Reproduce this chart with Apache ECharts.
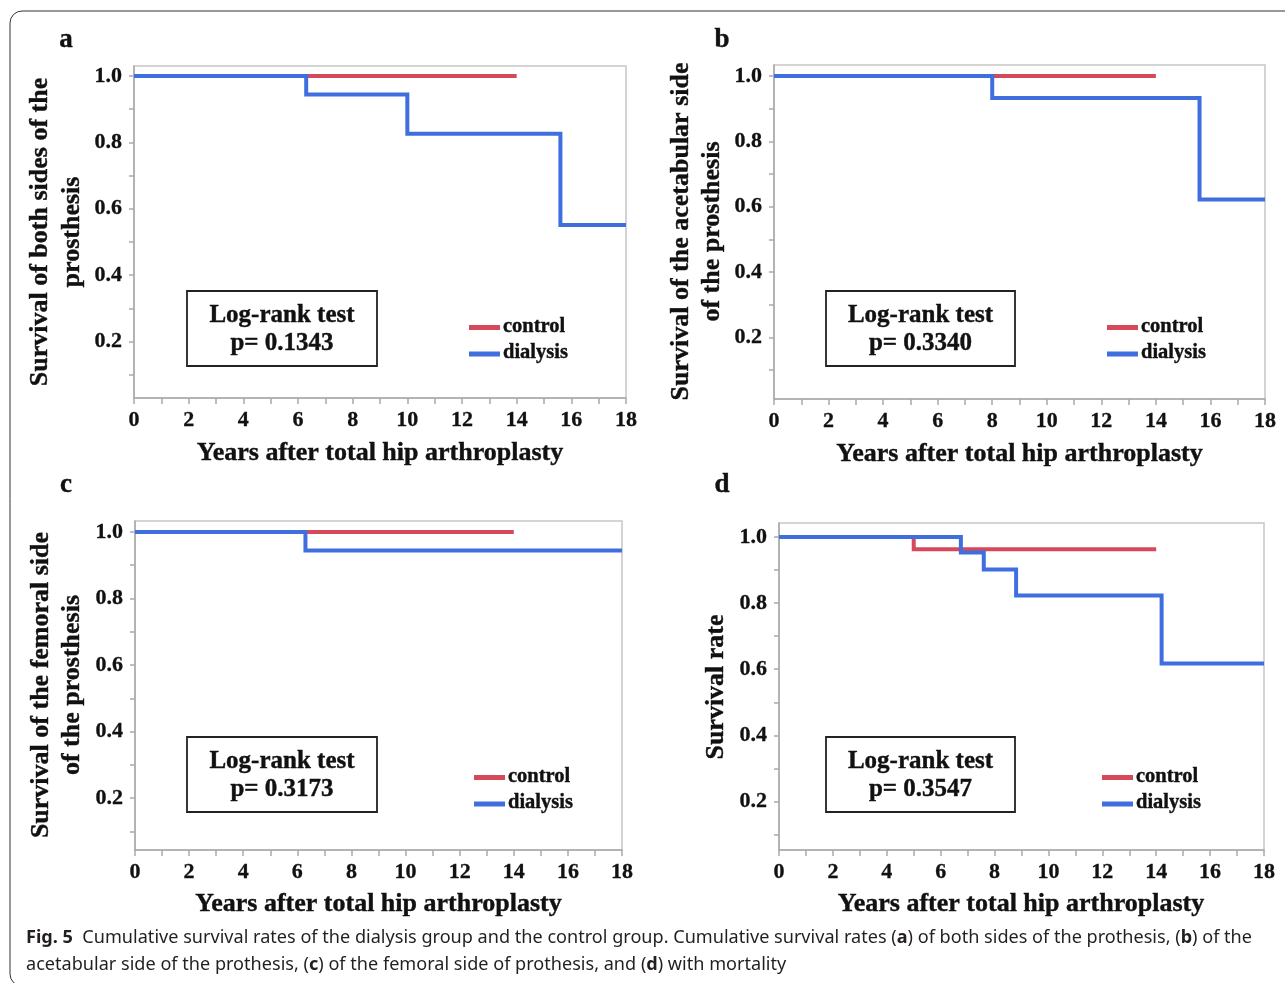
<!DOCTYPE html>
<html>
<head>
<meta charset="utf-8">
<script src="https://cdn.jsdelivr.net/npm/echarts@6/dist/echarts.min.js"></script>
<style>
html,body{margin:0;padding:0;background:#fff;}
#chart{width:1285px;height:983px;}
</style>
</head>
<body>
<div id="chart"></div>
<script>
// ---------------- DATA ----------------
const xTickLabels = [0, 2, 4, 6, 8, 10, 12, 14, 16, 18];
const xTickMarks = [0,1,2,3,4,5,6,7,8,9,10,11,12,13,14,15,16,17,18];
const yTickLabels = [0.2, 0.4, 0.6, 0.8, 1.0];
const yTickMarks = [0.1,0.2,0.3,0.4,0.5,0.6,0.7,0.8,0.9,1.0];

const seriesNames = ['control', 'dialysis'];
const panelLetters = ['a', 'b', 'c', 'd'];
const pValues = ['0.1343', '0.3340', '0.3173', '0.3547'];

const aControl  = [[0, 1], [14, 1]];
const aDialysis = [[0, 1], [6.3, 0.944], [10.0, 0.826], [15.6, 0.551], [18, 0.551]];
const bControl  = [[0, 1], [14, 1]];
const bDialysis = [[0, 1], [8.0, 0.933], [15.6, 0.622], [18, 0.622]];
const cControl  = [[0, 1], [14, 1]];
const cDialysis = [[0, 1], [6.3, 0.944], [18, 0.944]];
const dControl  = [[0, 1], [5.0, 0.963], [14, 0.963]];
const dDialysis = [[0, 1], [6.75, 0.953], [7.6, 0.902], [8.8, 0.823], [14.2, 0.617], [18, 0.617]];

const yTitles = [
  ['Survival of both sides of the', 'prosthesis'],
  ['Survival of the acetabular side', 'of the prosthesis'],
  ['Survival of the femoral side', 'of the prosthesis'],
  ['Survival rate']
];
const xTitle = 'Years after total hip arthroplasty';

const captionLine1 = [
  ['Fig. 5', true],
  ['  Cumulative survival rates of the dialysis group and the control group. Cumulative survival rates (', false],
  ['a', true], [') of both sides of the prothesis, (', false], ['b', true], [') of the', false]
];
const captionLine2 = [
  ['acetabular side of the prothesis, (', false], ['c', true], [') of the femoral side of prothesis, and (', false],
  ['d', true], [') with mortality', false]
];

// ---------------- LAYOUT / STYLE ----------------
const RED = '#d5495b', BLUE = '#3f6fdf';
const SERIF = '"Liberation Serif", "Times New Roman", serif';
const INK = '#111';
const layout = [
  { grid: {left: 134, top: 66, width: 492, height: 332}, yr: [0.03, 1.03],
    letter: [66, 40], yT: [[40.5, 232], [72, 232]], xT: [380, 453.5],
    box: [187, 291, 190, 75], leg: [469, 327.5, 354] },
  { grid: {left: 774, top: 65, width: 491, height: 334}, yr: [0.012, 1.0337],
    letter: [722, 40], yT: [[681, 231.5], [712, 231.5]], xT: [1019.5, 454],
    box: [826, 291, 189, 75], leg: [1107, 327.5, 354] },
  { grid: {left: 135, top: 521, width: 487, height: 329}, yr: [0.044, 1.033],
    letter: [66, 485], yT: [[41, 685], [72, 685]], xT: [378.5, 904.5],
    box: [187, 737, 190, 75], leg: [474, 777.5, 804] },
  { grid: {left: 779, top: 523, width: 485, height: 327}, yr: [0.053, 1.0424],
    letter: [722, 485], yT: [[716, 687]], xT: [1021, 904],
    box: [826, 737, 189, 75], leg: [1102, 777.5, 804] }
];
const panelData = [[aControl, aDialysis], [bControl, bDialysis], [cControl, cDialysis], [dControl, dDialysis]];

const chart = echarts.init(document.getElementById('chart'), null, {renderer: 'canvas'});

const grids = [], xAxes = [], yAxes = [], series = [], graphic = [];
const tickStyle = {fontFamily: SERIF, fontWeight: 'bold', fontSize: 22, color: INK, textBorderColor: INK, textBorderWidth: 0.3};

function serifText(x, y, text, size, extra) {
  return Object.assign({type: 'text', x: x, y: y,
    style: {text: text, fontFamily: SERIF, fontWeight: 'bold', fontSize: size, fill: INK,
      stroke: INK, lineWidth: 0.4, textAlign: 'center', textVerticalAlign: 'middle'}}, extra || {});
}

layout.forEach((L, i) => {
  grids.push(Object.assign({show: true, borderColor: '#c6c6c6', borderWidth: 1.5, backgroundColor: '#fff', outerBoundsMode: 'none', containLabel: false}, L.grid));
  xAxes.push({
    type: 'value', gridIndex: i, min: 0, max: 18,
    axisLine: {show: true, onZero: false, lineStyle: {color: '#a9a9a9', width: 1.5}},
    axisTick: {show: true, length: 6, customValues: xTickMarks, lineStyle: {color: '#a9a9a9', width: 1.5}},
    axisLabel: Object.assign({customValues: xTickLabels, margin: 11, showMinLabel: true, showMaxLabel: true}, tickStyle),
    splitLine: {show: false}
  });
  yAxes.push({
    type: 'value', gridIndex: i, min: L.yr[0], max: L.yr[1],
    axisLine: {show: true, onZero: false, lineStyle: {color: '#a9a9a9', width: 1.5}},
    axisTick: {show: true, length: 5, customValues: yTickMarks, lineStyle: {color: '#a9a9a9', width: 1.5}},
    axisLabel: Object.assign({customValues: yTickLabels, margin: 12, formatter: v => Number(v).toFixed(1)}, tickStyle),
    splitLine: {show: false}
  });
  panelData[i].forEach((d, k) => {
    series.push({
      name: seriesNames[k], type: 'line', xAxisIndex: i, yAxisIndex: i, data: d, step: 'end',
      showSymbol: false, symbol: 'none', lineStyle: {color: k === 0 ? RED : BLUE, width: 4, cap: 'butt', join: 'miter'},
      z: 2 + k, silent: true
    });
  });

  graphic.push(serifText(L.letter[0], L.letter[1], panelLetters[i], 27));
  yTitles[i].forEach((t, j) => {
    graphic.push(serifText(L.yT[j][0], L.yT[j][1], t, 26, {rotation: Math.PI / 2}));
  });
  graphic.push(serifText(L.xT[0], L.xT[1], xTitle, 26));

  const b = L.box;
  graphic.push({type: 'rect', shape: {x: b[0], y: b[1], width: b[2], height: b[3]},
    style: {fill: 'transparent', stroke: '#222', lineWidth: 1.8}, z: 10});
  graphic.push(serifText(b[0] + b[2] / 2, b[1] + 24.5, 'Log-rank test', 25, {z: 10}));
  graphic.push(serifText(b[0] + b[2] / 2, b[1] + 53, 'p= ' + pValues[i], 25, {z: 10}));

  const g = L.leg;
  [RED, BLUE].forEach((c, k) => {
    const yy = g[1 + k];
    graphic.push({type: 'line', shape: {x1: g[0], y1: yy, x2: g[0] + 31, y2: yy}, style: {stroke: c, lineWidth: 5}, z: 10});
    const t = serifText(g[0] + 34, yy - 1, seriesNames[k], 20.5, {z: 10});
    t.style.textAlign = 'left';
    graphic.push(t);
  });
});

// caption
const CAP_FONT = '"Noto Sans", "Open Sans", sans-serif';
const CAP_SIZE = 18;
const ctx = document.createElement('canvas').getContext('2d');
function segWidth(segs) {
  let w = 0;
  segs.forEach(s => { ctx.font = (s[1] ? 'bold ' : '') + CAP_SIZE + 'px ' + CAP_FONT; w += ctx.measureText(s[0]).width; });
  return w;
}
function richText(segs) {
  return segs.map(s => s[1] ? '{b|' + s[0] + '}' : '{n|' + s[0] + '}').join('');
}
const capScale = 1226 / segWidth(captionLine1);
const rich = {
  n: {fontFamily: CAP_FONT, fontSize: CAP_SIZE, fontWeight: 'normal', fill: '#231f20'},
  b: {fontFamily: CAP_FONT, fontSize: CAP_SIZE, fontWeight: 'bold', fill: '#231f20'}
};
[[captionLine1, 938], [captionLine2, 964.5]].forEach(([segs, y]) => {
  graphic.push({type: 'text', x: 26, y: y, scaleX: capScale,
    style: {text: richText(segs), rich: rich, fontFamily: CAP_FONT, fontSize: CAP_SIZE, fill: '#231f20', textAlign: 'left', textVerticalAlign: 'middle'}});
});

// outer frame
graphic.push({type: 'rect', shape: {x: 10, y: 11, width: 1300, height: 975, r: 12},
  style: {fill: 'transparent', stroke: '#333', lineWidth: 1}, z: 20, silent: true});

chart.setOption({
  animation: false,
  backgroundColor: '#fff',
  grid: grids, xAxis: xAxes, yAxis: yAxes, series: series, graphic: graphic
});
</script>
</body>
</html>
